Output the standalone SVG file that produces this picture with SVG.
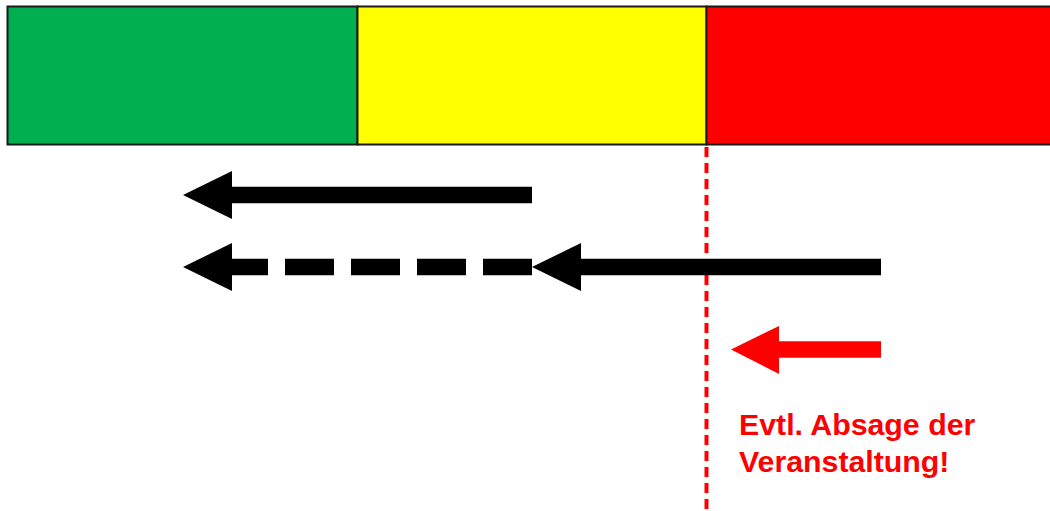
<svg xmlns="http://www.w3.org/2000/svg" width="1050" height="511" viewBox="0 0 1050 511">
  <style>
    .band { stroke: #1a1a1a; stroke-width: 2; }
    .shaft { stroke-width: 16.5; fill: none; }
    .black { stroke: #000; }
    .red { stroke: #ff0000; }
    .head { fill: #000; }
    .label { font-family: "Liberation Sans", Arial, sans-serif; font-weight: bold; font-size: 30.3px; fill: #ff0000; }
  </style>
  <rect width="1050" height="511" fill="#ffffff"/>

  <!-- traffic-light bar -->
  <g id="bar-green"><rect class="band" x="7.5" y="6.5" width="350" height="138" fill="#00b050"/></g>
  <g id="bar-yellow"><rect class="band" x="357.5" y="6.5" width="349" height="138" fill="#ffff00"/></g>
  <g id="bar-red"><rect class="band" x="706.5" y="6.5" width="360" height="138" fill="#ff0000"/></g>

  <g id="connectors">
    <!-- threshold line -->
    <line x1="706.5" y1="147" x2="706.5" y2="511" stroke="#ff0000" stroke-width="4" stroke-dasharray="10 6"/>

    <!-- upper arrow -->
    <line class="shaft black" x1="532" y1="195" x2="230" y2="195"/>
    <polygon class="head" points="183,195 232,171 232,219"/>

    <!-- lower arrow: solid part then dashed continuation -->
    <line class="shaft black" x1="881" y1="267" x2="579" y2="267"/>
    <polygon class="head" points="532,267 581,243 581,291"/>
    <line class="shaft black" x1="532" y1="267" x2="230" y2="267" stroke-dasharray="49 17"/>
    <polygon class="head" points="183,267 232,243 232,291"/>

    <!-- red arrow -->
    <line class="shaft red" x1="881" y1="349.5" x2="777" y2="349.5"/>
    <polygon points="731,349.5 779,326 779,374" fill="#ff0000"/>
  </g>

  <g id="note">
    <text class="label" x="739" y="435">Evtl. Absage der</text>
    <text class="label" x="739" y="472">Veranstaltung!</text>
  </g>
</svg>
